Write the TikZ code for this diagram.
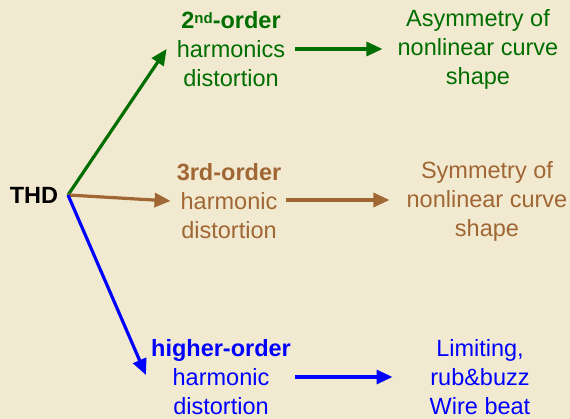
\documentclass[tikz,border=0pt]{standalone}
\usepackage{fontspec}
\setmainfont{Liberation Sans}
\usetikzlibrary{arrows.meta}

\definecolor{bgbeige}{RGB}{242,234,208}
\definecolor{ordgreen}{RGB}{0,110,0}
\definecolor{ordbrown}{RGB}{160,102,52}
\definecolor{ordblue}{RGB}{0,0,255}

\tikzset{
  label text/.style={align=center, inner sep=0pt,
    font=\fontsize{23.5}{29}\selectfont},
  link/.style={line width=3.2pt, -{Triangle[length=16pt,width=14pt]}},
}

\begin{document}
\begin{tikzpicture}[x=1pt, y=-1pt]
  % canvas
  \fill[bgbeige] (0,0) rectangle (570,419);
  \useasboundingbox (0,0) rectangle (570,419);

  % root
  \node[label text, font=\fontsize{23.5}{29}\selectfont\bfseries] (thd) at (34,195) {THD};
  \coordinate (fork) at (68,195);

  % second order branch
  \node[label text, text=ordgreen] (g1) at (231,49)
    {\textbf{2{\fontsize{15}{15}\selectfont\raisebox{5pt}{nd}}-order}\\harmonics\\distortion};
  \node[label text, text=ordgreen] (g2) at (478,49)
    {Asymmetry of\\nonlinear curve\\shape};

  % third order branch
  \node[label text, text=ordbrown] (b1) at (229,201)
    {\textbf{3rd-order}\\harmonic\\distortion};
  \node[label text, text=ordbrown] (b2) at (487,201)
    {Symmetry of\\nonlinear curve\\shape};

  % higher order branch
  \node[label text, text=ordblue] (h1) at (221,377)
    {\textbf{higher-order}\\harmonic\\distortion};
  \node[label text, text=ordblue] (h2) at (480,377)
    {Limiting,\\rub\&buzz\\Wire beat};

  % connectors
  \draw[link, ordgreen] (fork) -- ([xshift=-10pt]g1.west);
  \draw[link, ordbrown] (fork) -- ([xshift=-6pt]b1.west);
  \draw[link, ordblue] (fork) -- ([xshift=-5pt,yshift=2pt]h1.west);

  \draw[link, ordgreen] ([xshift=10pt]g1.east) -- ([xshift=-15pt]g2.west);
  \draw[link, ordbrown] ([xshift=5pt,yshift=1pt]b1.east) -- ([xshift=-17pt,yshift=1pt]b2.west);
  \draw[link, ordblue] ([xshift=4pt]h1.east) -- ([xshift=-37pt]h2.west);
\end{tikzpicture}
\end{document}
